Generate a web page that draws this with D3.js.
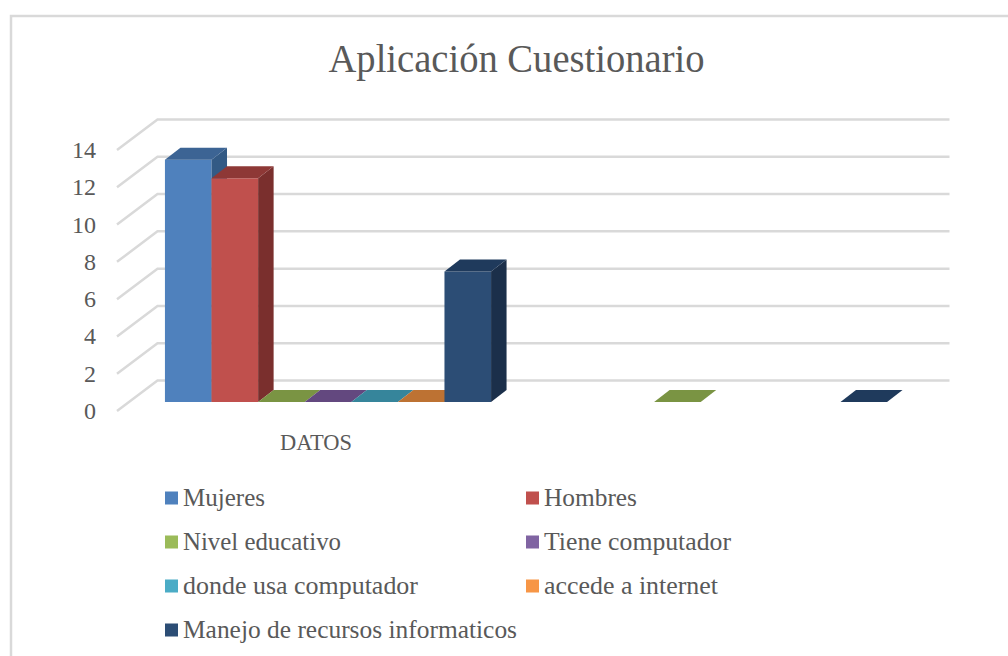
<!DOCTYPE html>
<html lang="en">
<head>
    <meta charset="UTF-8">
    <title>Aplicación Cuestionario</title>
    <style>
        html, body { margin: 0; padding: 0; background: #fff; }
        svg { display: block; }
        text { font-family: "Liberation Serif", serif; fill: #595959; }
        .grid { stroke: #d9d9d9; stroke-width: 2.5px; fill: none; }
    </style>
    <script src="https://d3js.org/d3.v7.min.js"></script>
</head>
<body>
    <svg width="1008" height="656"></svg>
    <script>
        const title = "Aplicación Cuestionario";
        const categories = ["DATOS", ""];
        const seriesNames = ["Mujeres", "Hombres", "Nivel educativo", "Tiene computador",
            "donde usa computador", "accede a internet", "Manejo de recursos informaticos"];
        // one list per category, null = no value so nothing gets drawn
        const datosValues = [13, 12, 0, 0, 0, 0, 7];
        const blankValues = [null, null, 0, null, null, null, 0];
        const yTicks = [0, 2, 4, 6, 8, 10, 12, 14];

        const frontColors = ["#4f81bd", "#c0504d", "#9bbb59", "#8064a2", "#4bacc6", "#f79646", "#2c4d75"];
        const topColors = ["#3c6494", "#8e3836", "#7a9443", "#63487f", "#36859b", "#bd7233", "#1f3a5c"];
        const sideColors = ["#335a85", "#7a2f2d", "#688039", "#543d6d", "#2e7285", "#a3622c", "#1b2f4a"];

        const svg = d3.select("svg");

        // floor of the 3d box: front edge and how far the back wall is shifted
        const floorY = 411, backDx = 40.5, backDy = -30.5;
        const barDx = 15.5, barDy = -12, barShiftX = 13, barShiftY = -9;

        const x0 = d3.scaleBand().domain(categories).range([117, 909]);
        const x1 = d3.scaleBand().domain(seriesNames).range([0, x0.bandwidth()])
            .paddingInner(0).paddingOuter(0.75);
        const y = d3.scaleLinear().domain([0, 14]).range([0, 261]);

        // chart frame, only the left and top edges are in the picture
        svg.append("path").attr("class", "grid")
            .attr("d", "M11,656V16H1008");

        svg.append("text").attr("x", 516.5).attr("y", 72)
            .attr("text-anchor", "middle").attr("font-size", 40)
            .attr("textLength", 376).attr("lengthAdjust", "spacingAndGlyphs")
            .text(title);

        // gridlines, side wall then back wall
        svg.append("g").selectAll("path").data(yTicks).enter().append("path")
            .attr("class", "grid")
            .attr("d", d => {
                const yy = floorY - y(d);
                return `M${x0.range()[0]},${yy}L${x0.range()[0] + backDx},${yy + backDy}H${x0.range()[1] + backDx}`;
            });

        svg.append("g").selectAll("text").data(yTicks).enter().append("text")
            .attr("x", 96).attr("y", d => floorY - y(d) + 8)
            .attr("text-anchor", "end").attr("font-size", 24)
            .text(d => d);

        const rows = categories.map((c, i) => ({
            category: c,
            values: i === 0 ? datosValues : blankValues
        }));

        rows.forEach(row => {
            const g = svg.append("g");
            row.values.forEach((v, i) => {
                if (v === null) return;
                const xl = x0(row.category) + x1(seriesNames[i]) + barShiftX;
                const w = x1.bandwidth();
                const yb = floorY + barShiftY;
                const yt = yb - y(v);
                if (v > 0) {
                    g.append("rect").attr("x", xl).attr("y", yt)
                        .attr("width", w).attr("height", yb - yt)
                        .attr("fill", frontColors[i]);
                    g.append("path").attr("fill", sideColors[i])
                        .attr("d", `M${xl + w},${yt}l${barDx},${barDy}V${yb + barDy}L${xl + w},${yb}Z`);
                }
                g.append("path").attr("fill", topColors[i])
                    .attr("d", `M${xl},${yt}l${barDx},${barDy}h${w}l${-barDx},${-barDy}Z`);
            });
        });

        svg.append("text").attr("x", 316).attr("y", 450)
            .attr("text-anchor", "middle").attr("font-size", 24)
            .attr("textLength", 72).attr("lengthAdjust", "spacingAndGlyphs")
            .text(categories[0]);

        // legend, two columns
        const legendColX = [165, 526], legendRowY = [498, 542, 586, 630];
        const legendWidths = [82, 93, 158, 187, 235, 174, 334];
        const legend = svg.append("g").selectAll("g").data(seriesNames).enter().append("g")
            .attr("transform", (d, i) => `translate(${legendColX[i % 2]},${legendRowY[Math.floor(i / 2)]})`);
        legend.append("rect").attr("x", 0).attr("y", -6.5).attr("width", 13).attr("height", 13)
            .attr("fill", (d, i) => frontColors[i]);
        legend.append("text").attr("x", 18).attr("y", 8).attr("font-size", 26)
            .attr("textLength", (d, i) => legendWidths[i]).attr("lengthAdjust", "spacingAndGlyphs")
            .text(d => d);
    </script>
</body>
</html>
